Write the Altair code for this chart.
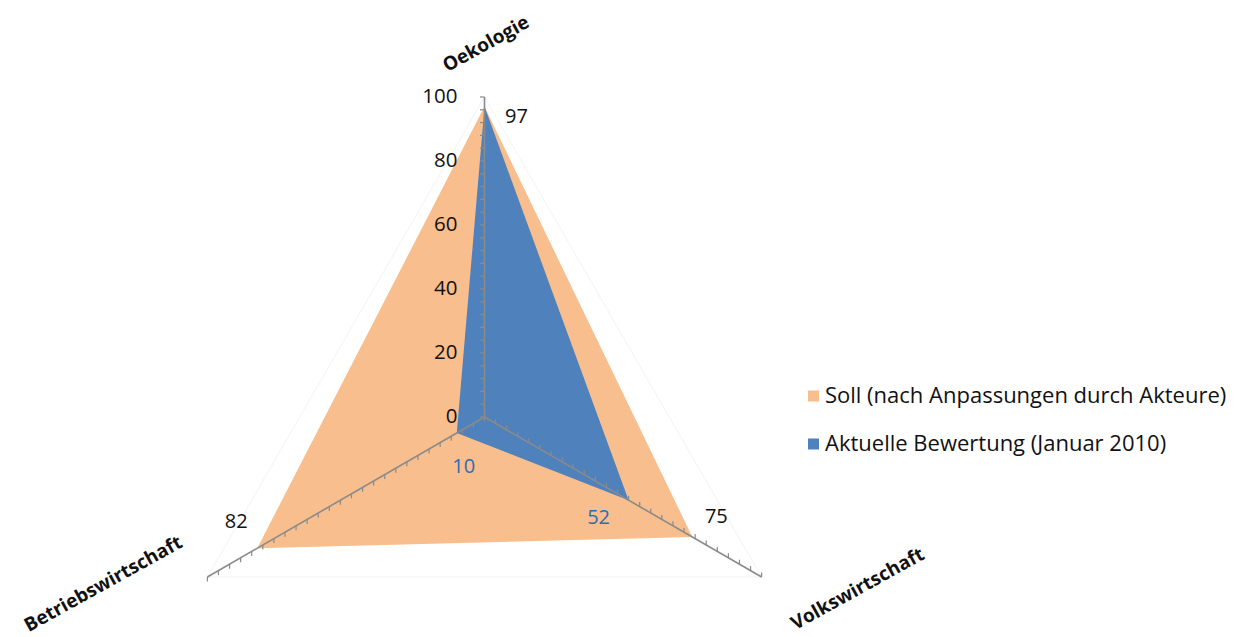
import altair as alt
import numpy as np
import pandas as pd

# ---- chart values -------------------------------------------------------
categories = ["Oekologie", "Volkswirtschaft", "Betriebswirtschaft"]
soll_values = [97, 75, 82]
aktuell_values = [97, 52, 10]
series_names = [
    "Soll (nach Anpassungen durch Akteure)",
    "Aktuelle Bewertung (Januar 2010)",
]
scale_labels = [0, 20, 40, 60, 80, 100]
scale_max = 100
minor_step = 4

# ---- styling ------------------------------------------------------------
ORANGE = "#F8BE8D"
BLUE = "#4F81BD"
LABEL_BLUE = "#2F6DB3"
AXIS_GREY = "#8A8A8A"
GRID_GREY = "#F3F3F3"
FONT = "Open Sans"

W, H = 1251, 637
CX, CY = 484.5, 417.0      # pixel position of the radar centre
PX = 3.2                   # pixels per value unit
TICK_LEN = 4.5 / PX        # minor tick length in value units

x_scale = alt.Scale(domain=[-CX / PX, (W - CX) / PX], nice=False, zero=False)
y_scale = alt.Scale(domain=[-(H - CY) / PX, CY / PX], nice=False, zero=False)
color_scale = alt.Scale(domain=series_names, range=[ORANGE, BLUE])


def angle_of(i):
    # first spoke points straight up, the others follow clockwise
    return np.deg2rad(90 - 120 * i)


def X(field="x"):
    return alt.X(f"{field}:Q", scale=x_scale, axis=None)


def Y(field="y"):
    return alt.Y(f"{field}:Q", scale=y_scale, axis=None)


# ---- tables built from the values ----------------------------------------
poly_rows = []
for name, vals in zip(series_names, [soll_values, aktuell_values]):
    for i, (cat, v) in enumerate(zip(categories, vals)):
        a = angle_of(i)
        poly_rows.append(dict(series=name, cat=cat, idx=i, value=v,
                              x=v * np.cos(a), y=v * np.sin(a)))
poly = pd.DataFrame(poly_rows)

spokes = pd.DataFrame([
    dict(cat=c, idx=i, x=0.0, y=0.0,
         x2=scale_max * np.cos(angle_of(i)), y2=scale_max * np.sin(angle_of(i)))
    for i, c in enumerate(categories)
])

grid = pd.DataFrame([
    dict(idx=i, x=scale_max * np.cos(angle_of(i)), y=scale_max * np.sin(angle_of(i)))
    for i in range(len(categories))
])

tick_rows = []
for i, c in enumerate(categories):
    a = angle_of(i)
    # vertical spoke: ticks to the left; lower spokes: ticks up on the right, down on the left
    if i == 0:
        tdx, tdy = -TICK_LEN, 0.0
    else:
        tdx, tdy = 0.0, (TICK_LEN if np.cos(a) > 0 else -TICK_LEN)
    for t in range(0, scale_max + 1, minor_step):
        px, py = t * np.cos(a), t * np.sin(a)
        tick_rows.append(dict(cat=c, t=t, x=px, y=py, x2=px + tdx, y2=py + tdy))
ticks = pd.DataFrame(tick_rows)

scale_df = pd.DataFrame(dict(value=scale_labels, x=0.0, y=scale_labels))

# ---- layers ---------------------------------------------------------------
layers = []

layers.append(
    alt.Chart(grid).mark_line(interpolate="linear-closed", color=GRID_GREY, strokeWidth=1)
    .encode(x=X(), y=Y(), order="idx:Q")
)

for name in series_names:
    layers.append(
        alt.Chart(poly).transform_filter(alt.datum.series == name)
        .mark_line(filled=True, strokeWidth=0, opacity=1)
        .encode(x=X(), y=Y(), order="idx:Q",
                color=alt.Color("series:N", scale=color_scale, legend=None))
    )

layers.append(
    alt.Chart(spokes).mark_rule(color=AXIS_GREY, strokeWidth=1.6)
    .encode(x=X(), y=Y(), x2="x2:Q", y2="y2:Q")
)
layers.append(
    alt.Chart(ticks).mark_rule(color=AXIS_GREY, strokeWidth=1.2)
    .encode(x=X(), y=Y(), x2="x2:Q", y2="y2:Q")
)

layers.append(
    alt.Chart(scale_df).mark_text(align="right", baseline="middle", dx=-27,
                                  font=FONT, fontSize=20.5, color="#111111")
    .encode(x=X(), y=Y(), text="value:Q")
)

# value labels next to the polygon corners
label_style = {
    (series_names[0], "Oekologie"): (32, 10, "#111111"),
    (series_names[0], "Volkswirtschaft"): (24, -20, "#111111"),
    (series_names[0], "Betriebswirtschaft"): (-21, -26, "#111111"),
    (series_names[1], "Volkswirtschaft"): (-30, 18, LABEL_BLUE),
    (series_names[1], "Betriebswirtschaft"): (7, 34, LABEL_BLUE),
}
for (name, cat), (dx, dy, col) in label_style.items():
    layers.append(
        alt.Chart(poly)
        .transform_filter((alt.datum.series == name) & (alt.datum.cat == cat))
        .mark_text(align="center", baseline="middle", dx=dx, dy=dy,
                   font=FONT, fontSize=20, color=col)
        .encode(x=X(), y=Y(), text="value:Q")
    )

# spoke titles, set out beyond the spoke ends
title_offset = {
    "Oekologie": (1.5, -53),
    "Volkswirtschaft": (96, 12),
    "Betriebswirtschaft": (-104, 7),
}
cat_rows = []
for i, c in enumerate(categories):
    a = angle_of(i)
    ox, oy = title_offset[c]
    cat_rows.append(dict(cat=c,
                         x=scale_max * np.cos(a) + ox / PX,
                         y=scale_max * np.sin(a) - oy / PX))
cat_df = pd.DataFrame(cat_rows)
layers.append(
    alt.Chart(cat_df).mark_text(align="center", baseline="middle", angle=331,
                                font=FONT, fontSize=19, fontWeight="bold", color="#111111")
    .encode(x=X(), y=Y(), text="cat:N")
)

# legend
legend_df = pd.DataFrame(dict(series=series_names))
for k, name in enumerate(series_names):
    ly = 396 + 48 * k
    base = alt.Chart(legend_df).transform_filter(alt.datum.series == name)
    layers.append(
        base.mark_square(size=121, opacity=1)
        .encode(x=alt.value(813.5), y=alt.value(ly),
                color=alt.Color("series:N", scale=color_scale, legend=None))
    )
    layers.append(
        base.mark_text(align="left", baseline="middle", font=FONT, fontSize=22,
                       color="#111111")
        .encode(x=alt.value(825), y=alt.value(ly), text="series:N")
    )

chart = (
    alt.layer(*layers)
    .properties(width=W, height=H, padding=0,
                autosize=alt.AutoSizeParams(type="none"), background="white")
    .configure_view(strokeWidth=0)
)

chart.save("out.html", embed_options={"renderer": "svg", "actions": False})
